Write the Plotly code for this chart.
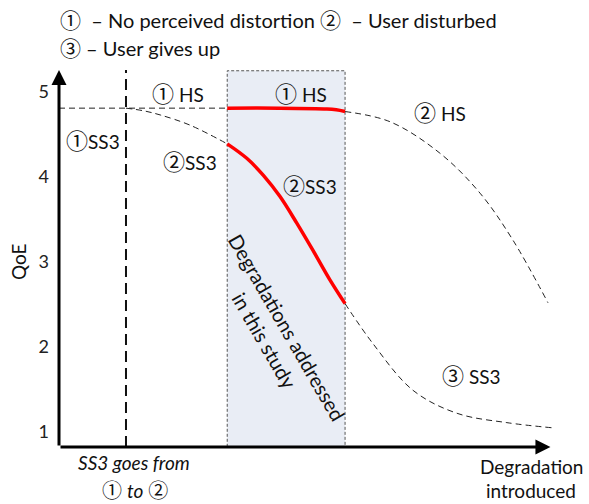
import plotly.graph_objects as go

# ---------------- data ----------------
# x: arbitrary "degradation introduced" units (0 = QoE axis, 100 = arrow tip)
hs_pre_x = [0, 34.4]
hs_pre_q = [4.81, 4.81]

ss3_pre_x = [13.7, 17.2, 20.7, 26.8, 34.4]
ss3_pre_q = [4.81, 4.78, 4.73, 4.61, 4.39]

red_hs_x = [34.4, 45.0, 54.8, 56.7, 58.5]
red_hs_q = [4.81, 4.81, 4.80, 4.79, 4.77]

red_ss3_x = [34.4, 38.4, 41.8, 45.2, 48.6, 52.0, 55.4, 58.5]
red_ss3_q = [4.39, 4.22, 4.02, 3.77, 3.46, 3.13, 2.79, 2.51]

hs_post_x = [58.5, 67.7, 77.9, 86.1, 92.8, 100.0]
hs_post_q = [4.77, 4.65, 4.28, 3.81, 3.26, 2.52]

ss3_post_x = [58.5, 64.2, 72.4, 81.4, 91.6, 100.8]
ss3_post_q = [2.51, 2.04, 1.49, 1.22, 1.11, 1.05]

study_region = [34.4, 58.5]   # degradations addressed in this study
ss3_switch_x = 13.7           # SS3 goes from 1 to 2
y_ticks = [1, 2, 3, 4, 5]
y_tick_labels = ["1", "2", "3", "4", "5"]

# ---------------- geometry helpers ----------------
W, H = 589, 504
ML, MB = 59, 57
PH = H - MB
XS = 4.89          # px per x unit
YS = 85.0          # px per QoE unit
Y0 = 5 - (PH - 92) / YS       # QoE at the bottom of plot area
Y1 = 5 + 92 / YS              # QoE at the top of figure
X1 = (W - ML) / XS
YTOP = 5.26


def pxp(x):   # pixel x -> paper x
    return (x - ML) / (W - ML)


def pyp(y):   # pixel y -> paper y
    return (PH - y) / PH


FONT = "Lato, 'Noto Sans CJK JP', sans-serif"


def C(d, size=22):
    return f'<span style="font-family:\'Noto Sans CJK JP\';font-size:{size}px">{d}</span>'


c1, c2, c3 = C("①"), C("②"), C("③")

fig = go.Figure()

dash_thin = dict(color="#222", width=1, dash="6px,4px")
for xs, qs in [(hs_pre_x, hs_pre_q), (ss3_pre_x, ss3_pre_q),
               (hs_post_x, hs_post_q), (ss3_post_x, ss3_post_q)]:
    fig.add_trace(go.Scatter(x=xs, y=qs, mode="lines", line=dict(shape="spline", **dash_thin),
                             hoverinfo="skip", showlegend=False))
for xs, qs in [(red_hs_x, red_hs_q), (red_ss3_x, red_ss3_q)]:
    fig.add_trace(go.Scatter(x=xs, y=qs, mode="lines",
                             line=dict(color="#ff0000", width=3.5, shape="spline"),
                             hoverinfo="skip", showlegend=False))

shapes = [
    dict(type="rect", xref="x", yref="y", x0=study_region[0], x1=study_region[1],
         y0=Y0, y1=5.25, fillcolor="#e9edf5", line=dict(color="#555", width=1, dash="3px,2px"),
         layer="below"),
    dict(type="line", xref="x", yref="y", x0=ss3_switch_x, x1=ss3_switch_x, y0=Y0, y1=YTOP,
         line=dict(color="#111", width=2, dash="11px,6px")),
]

ann = []
# axes with arrows
ann.append(dict(x=0, y=YTOP, ax=0, ay=Y0, xref="x", yref="y", axref="x", ayref="y",
                showarrow=True, arrowhead=2, arrowsize=1.0, arrowwidth=3, arrowcolor="#000", text=""))
ann.append(dict(x=100.5, y=Y0, ax=0, ay=Y0, xref="x", yref="y", axref="x", ayref="y",
                showarrow=True, arrowhead=2, arrowsize=1.0, arrowwidth=3, arrowcolor="#000", text=""))


def label(text, cx, cy, size=19, anchor="center", angle=0, italic=False, align="center"):
    ann.append(dict(x=pxp(cx), y=pyp(cy), xref="paper", yref="paper", text=text, showarrow=False,
                    xanchor=anchor, yanchor="middle", textangle=angle, align=align,
                    font=dict(family=FONT, size=size, color="#111",
                              style="italic" if italic else "normal")))


label(f"{C('①', 21)}  – No perceived distortion {C('②', 21)}  – User disturbed",
      58, 19, anchor="left", size=20)
label(f"{C('③', 21)} – User gives up", 58, 47, anchor="left", size=20)
label(f"{c1} HS", 178, 92)
label(f"{c1} HS", 301, 92)
label(f"{c2} HS", 440, 111)
label(f"{c1}SS3", 93, 139)
label(f"{c2}SS3", 190, 160)
label(f"{c2}SS3", 310, 184)
label(f"{c3} SS3", 471, 374)
label("Degradations addressed<br>in this study", 276, 334, size=20, angle=60)
label("SS3 goes from", 134, 462, italic=True)
label(f"{C('①', 20)} <i>to</i> {C('②', 20)}", 135, 489)
label("Degradation", 531, 466)
label("introduced", 531, 491)
label("QoE", 18, 262, angle=-90)

fig.update_layout(
    width=W, height=H, autosize=False,
    margin=dict(l=ML, r=0, t=0, b=MB),
    paper_bgcolor="white", plot_bgcolor="white",
    shapes=shapes, annotations=ann,
    xaxis=dict(range=[0, X1], visible=False, fixedrange=True),
    yaxis=dict(range=[Y0, Y1], tickvals=y_ticks, ticktext=y_tick_labels, showgrid=False,
               zeroline=False, showline=False, ticks="", ticklabelstandoff=9,
               tickfont=dict(family=FONT, size=18, color="#222"), fixedrange=True),
    showlegend=False,
)

fig.write_html("out.html", config={"displayModeBar": False},
               post_script="document.body.style.margin='0';")
